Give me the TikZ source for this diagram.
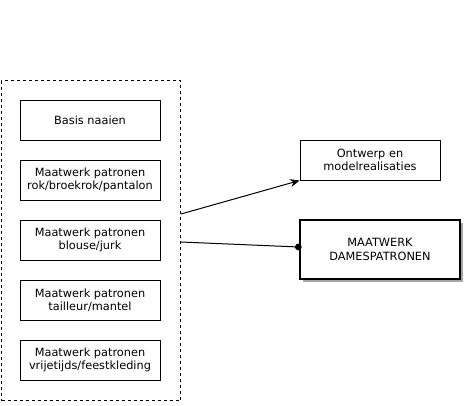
\documentclass[tikz,border=0pt]{standalone}
\usepackage{fontspec}
\setmainfont{DejaVu Sans}
\usetikzlibrary{arrows.meta,shadows}
\tikzset{
  itembox/.style={draw=black, line width=0.75pt, minimum width=105pt, minimum height=30pt, inner sep=1pt, align=center, font=\fontsize{8.5}{10}\selectfont, fill=white},
  mainbox/.style={draw=black, line width=1.5pt, minimum width=120pt, minimum height=44.25pt, inner sep=1pt, align=center, font=\fontsize{8.5}{10}\selectfont, fill=white, drop shadow={shadow xshift=2.5pt, shadow yshift=-2.5pt, fill=gray!70, opacity=1}},
  container/.style={draw=black, dashed, line width=0.75pt, dash pattern=on 2.25pt off 2.25pt},
  conn/.style={draw=black, line width=0.75pt}
}
\begin{document}
\begin{tikzpicture}[x=0.75pt,y=-0.75pt]
\useasboundingbox (0,0) rectangle (468,405);
\node[container, minimum width=134.25pt, minimum height=240pt, anchor=north west] (cont) at (1,80) {};
\node[itembox] (b1) at (90,120) {Basis naaien};
\node[itembox] (b2) at (90,180) {Maatwerk patronen\\rok/broekrok/pantalon};
\node[itembox] (b3) at (90,240) {Maatwerk patronen\\blouse/jurk};
\node[itembox] (b4) at (90,300) {Maatwerk patronen\\tailleur/mantel};
\node[itembox] (b5) at (90,360) {Maatwerk patronen\\vrijetijds/feestkleding};
\node[itembox] (ont) at (370,160) {Ontwerp en\\modelrealisaties};
\node[mainbox] (mw) at (380,249.5) {MAATWERK\\DAMESPATRONEN};
\coordinate (s1) at (cont.east |- 0,214);
\coordinate (s2) at (cont.east |- 0,242);
\coordinate (e1) at (ont.south west);
\coordinate (e2) at (mw.west |- 0,247);
\draw[conn, -{Stealth[length=7pt,width=6pt]}] (s1) -- (e1);
\draw[conn, -{Circle[length=5pt]}, shorten >=-2pt] (s2) -- (e2);
\end{tikzpicture}
\end{document}
